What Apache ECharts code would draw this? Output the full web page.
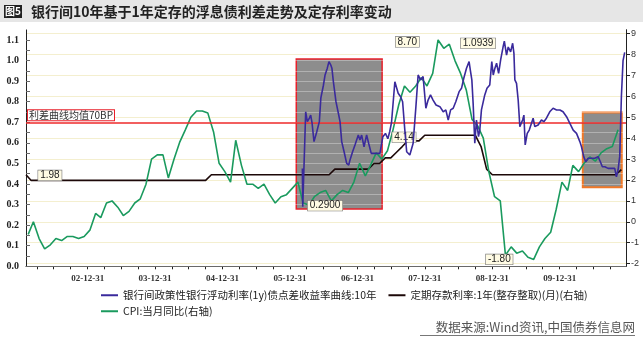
<!DOCTYPE html>
<html>
<head>
<meta charset="utf-8">
<script src="https://cdn.jsdelivr.net/npm/echarts@6/dist/echarts.min.js"></script>
<style>
  html, body { margin: 0; padding: 0; background: #fff; }
  #chart { width: 643px; height: 337px; }
</style>
</head>
<body>
<div id="chart"></div>
<script>
// 银行间政策性银行浮动利率(1y)债点差收益率曲线:10年 (left axis)
const spreadDates = [
  '2006-03-08','2006-03-10','2006-03-17','2006-03-26','2006-04-04','2006-04-15','2006-04-22','2006-04-29',
  '2006-05-10','2006-05-17','2006-05-25','2006-06-08','2006-06-16','2006-06-30','2006-07-09','2006-07-21',
  '2006-07-30','2006-08-09','2006-08-15','2006-08-23','2006-09-06','2006-09-19','2006-09-28','2006-10-07',
  '2006-10-20','2006-11-03','2006-11-14','2006-11-21','2006-12-05','2006-12-18','2007-01-05','2007-01-14',
  '2007-01-23','2007-02-05','2007-02-19','2007-03-02','2007-03-16','2007-03-31','2007-04-18','2007-05-02',
  '2007-05-11','2007-05-18','2007-06-01','2007-06-14','2007-06-24','2007-07-04','2007-07-22','2007-08-09',
  '2007-08-22','2007-09-02','2007-09-14','2007-09-24','2007-10-11','2007-10-29','2007-11-13','2007-11-25',
  '2007-12-08','2007-12-22','2008-01-06','2008-01-18','2008-01-31','2008-02-14','2008-03-01','2008-03-22',
  '2008-04-09','2008-04-23','2008-05-06','2008-05-19','2008-06-02','2008-06-16','2008-07-04','2008-07-17',
  '2008-07-29','2008-08-13','2008-08-27','2008-09-04','2008-09-11','2008-09-18','2008-09-27','2008-10-06',
  '2008-10-17','2008-10-24','2008-11-02','2008-11-20','2008-12-02','2008-12-17','2008-12-28','2009-01-05',
  '2009-01-14','2009-01-23','2009-02-03','2009-02-14','2009-02-28','2009-03-06','2009-03-18','2009-03-27',
  '2009-04-09','2009-04-20','2009-04-27','2009-05-02','2009-05-11','2009-05-20','2009-05-29','2009-06-13',
  '2009-06-20','2009-06-27','2009-07-08','2009-07-19','2009-07-31','2009-08-09','2009-08-18','2009-09-05',
  '2009-09-23','2009-10-06','2009-10-20','2009-11-07','2009-11-25','2009-12-14','2010-01-01','2010-01-18',
  '2010-02-06','2010-02-24','2010-03-14','2010-04-01','2010-04-19','2010-04-28','2010-05-10','2010-05-21',
  '2010-06-03','2010-06-21','2010-07-09','2010-07-27','2010-08-08','2010-08-19','2010-09-01','2010-09-19',
  '2010-10-07','2010-10-25','2010-11-03','2010-11-12','2010-11-21','2010-11-30','2010-12-09','2010-12-18'
];
const spreadValues = [
  0.476,0.29,0.29,0.751,0.703,0.72,0.735,0.70,
  0.606,0.598,0.654,0.703,0.817,0.88,0.93,0.963,
  0.995,0.978,0.963,0.897,0.80,0.744,0.703,0.606,
  0.557,0.50,0.492,0.517,0.557,0.59,0.638,0.614,
  0.638,0.581,0.638,0.598,0.549,0.549,0.549,0.549,
  0.54,0.63,0.646,0.62,0.654,0.70,0.897,0.841,
  0.824,0.80,0.662,0.557,0.541,0.598,0.776,0.93,
  0.906,0.922,0.768,0.808,0.833,0.808,0.784,0.776,
  0.751,0.76,0.711,0.76,0.768,0.80,0.849,0.865,
  0.913,0.963,0.995,0.946,0.906,0.792,0.598,0.711,
  0.63,0.662,0.76,0.833,0.865,0.881,0.995,0.93,
  0.963,0.987,0.938,1.003,1.07,1.0939,1.026,1.066,
  1.042,1.084,1.035,0.906,0.889,0.808,0.679,0.711,
  0.735,0.59,0.646,0.662,0.695,0.72,0.679,0.687,
  0.711,0.703,0.72,0.751,0.768,0.76,0.76,0.751,
  0.727,0.695,0.662,0.646,0.606,0.581,0.533,0.508,
  0.525,0.525,0.525,0.533,0.508,0.484,0.484,0.476,
  0.476,0.476,0.435,0.468,0.533,0.824,1.0,1.04
];

// 定期存款利率:1年(整存整取)(月) (right axis)
const depositDates = [
  '2002-01-31','2002-02-28','2004-09-30','2004-10-31','2006-07-31','2006-08-31','2007-02-28','2007-03-31',
  '2007-04-30','2007-05-31','2007-06-30','2007-07-31','2007-08-31','2007-09-30','2007-11-30','2007-12-31',
  '2008-09-30','2008-10-31','2008-11-30','2008-12-31','2010-10-31','2010-11-30'
];
const depositValues = [
  2.25,1.98,1.98,2.25,2.25,2.52,2.52,2.79,
  2.79,3.06,3.06,3.33,3.60,3.87,3.87,4.14,
  4.14,3.60,2.52,2.25,2.25,2.50
];

// CPI:当月同比, one value per month from 2002-01, plotted at its release date
const cpiFirstMonth = [2002, 1];
const cpiValues = [
  -0.6, 0.0,-0.8,-1.3,-1.1,-0.8,-0.9,-0.7,-0.7,-0.8,-0.7,-0.4,
   0.4, 0.2, 0.9, 1.0, 0.7, 0.3, 0.5, 0.9, 1.1, 1.8, 3.0, 3.2,
   3.2, 2.1, 3.0, 3.8, 4.4, 5.0, 5.3, 5.3, 5.2, 4.3, 2.8, 2.4,
   1.9, 3.9, 2.7, 1.8, 1.8, 1.6, 1.8, 1.3, 0.9, 1.2, 1.3, 1.6,
   1.9, 0.9, 0.8, 1.2, 1.4, 1.5, 1.0, 1.3, 1.5, 1.4, 1.9, 2.8,
   2.2, 2.7, 3.3, 3.0, 3.4, 4.4, 5.6, 6.5, 6.2, 6.5, 6.9, 6.5,
   7.1, 8.7, 8.3, 8.5, 7.7, 7.1, 6.3, 4.9, 4.6, 4.0, 2.4, 1.2,
   1.0,-1.6,-1.2,-1.5,-1.4,-1.7,-1.8,-1.2,-0.8,-0.5, 0.6, 1.9,
   1.5, 2.7, 2.4, 2.8, 3.1, 2.9, 3.3, 3.5, 3.6, 4.4
];

const spreadMean = 0.7;
const xRange = ['2002-01-31', '2010-12-25'];
const xTickLabels = ['2002-12-31','2003-12-31','2004-12-31','2005-12-31','2006-12-31','2007-12-31','2008-12-31','2009-12-31'];
const leftTicks = [0,0.1,0.2,0.3,0.4,0.5,0.6,0.7,0.8,0.9,1.0,1.1];
const rightTicks = [-2,-1,0,1,2,3,4,5,6,7,8,9];

// highlighted periods: [start, end, low, high] in units of the spread axis
const boxes = [
  ['2006-02-03','2007-05-14',0.278,1.008],
  ['2010-05-05','2010-12-02',0.384,0.747]
];

const legendNames = [
  '银行间政策性银行浮动利率(1y)债点差收益率曲线:10年',
  '定期存款利率:1年(整存整取)(月)(右轴)',
  'CPI:当月同比(右轴)'
];

const ts = s => { const p = s.split('-').map(Number); return Date.UTC(p[0], p[1]-1, p[2]); };
const pad = n => (n < 10 ? '0' : '') + n;

const spreadData = spreadDates.map((d, i) => [ts(d), spreadValues[i]]);
const depositData = depositDates.map((d, i) => [ts(d), depositValues[i]]);
const cpiData = cpiValues.map((v, i) => {
  // release falls around the 12th of the following month
  const m = cpiFirstMonth[1] - 1 + i + 1;
  const y = cpiFirstMonth[0] + Math.floor(m / 12);
  return [Date.UTC(y, m % 12, 12), v];
});

// quarter-end tick marks along the date axis
const quarterTicks = [];
for (let y = 2002; y <= 2010; y++) {
  [[2, 31], [5, 30], [8, 30], [11, 31]].forEach(([m, d]) => quarterTicks.push(Date.UTC(y, m, d)));
}
// half-step ticks on the spread axis
const leftTickMarks = [];
for (let k = 0; k <= 22; k++) leftTickMarks.push(k * 0.05);

const CJK = '"Noto Sans CJK SC", "Noto Sans", sans-serif';
const calloutLabel = (fmt, pos, offset) => ({
  show: true, position: pos, offset: offset, formatter: fmt,
  fontSize: 10, fontFamily: 'Liberation Sans, Arial, sans-serif', color: '#222',
  backgroundColor: '#fffbe4', borderColor: '#777', borderWidth: 0.6, padding: [0, 2]
});
const legendBase = {
  itemWidth: 17, itemHeight: 2, icon: 'rect', itemGap: 12, padding: 0,
  textStyle: { fontFamily: CJK, fontSize: 10.5, color: '#222' }
};

const chart = echarts.init(document.getElementById('chart'), null, { renderer: 'canvas' });
chart.setOption({
  animation: false,
  backgroundColor: '#ffffff',
  grid: { left: 26, right: 17, top: 29.7, bottom: 70.7, containLabel: false },
  xAxis: {
    type: 'value',
    min: ts(xRange[0]), max: ts(xRange[1]),
    axisLine: { lineStyle: { color: '#222', width: 1 } },
    axisTick: { show: true, length: 3, lineStyle: { color: '#222' }, customValues: quarterTicks },
    splitLine: { show: false },
    axisLabel: {
      customValues: xTickLabels.map(ts),
      formatter: v => { const d = new Date(v); return String(d.getUTCFullYear()).slice(2) + '-' + pad(d.getUTCMonth()+1) + '-' + pad(d.getUTCDate()); },
      fontFamily: 'Liberation Serif, serif', fontWeight: 'bold', fontSize: 9, color: '#333', margin: 8
    }
  },
  yAxis: [
    {
      type: 'value', min: 0, max: 1.15, position: 'left',
      axisLine: { show: true, lineStyle: { color: '#222' } },
      axisTick: { inside: true, length: 4, lineStyle: { color: '#222' }, customValues: leftTickMarks },
      axisLabel: { customValues: leftTicks, formatter: v => v.toFixed(1),
        fontFamily: 'Liberation Serif, serif', fontWeight: 'bold', fontSize: 10, color: '#222', margin: 7 },
      splitLine: { show: false }
    },
    {
      type: 'value', min: -2.129, max: 9.191, position: 'right',
      axisLine: { show: true, lineStyle: { color: '#222' } },
      axisTick: { inside: false, length: 4, lineStyle: { color: '#222' }, customValues: rightTicks },
      axisLabel: { customValues: rightTicks, fontFamily: 'Liberation Sans, sans-serif', fontSize: 9, color: '#333', margin: 5,
        formatter: v => String(Math.round(v)) },
      splitLine: { show: true, lineStyle: { color: '#f4efcf', width: 1 } }
    },
    {
      // light rules that show only on the shaded periods
      type: 'value', min: 0, max: 1.15, interval: 0.05, position: 'left', z: 2,
      axisLine: { show: false }, axisTick: { show: false }, axisLabel: { show: false },
      splitLine: { show: true, lineStyle: { color: 'rgba(255,255,255,0.32)', width: 1 } }
    }
  ],
  legend: [
    Object.assign({ left: 101, top: 290, data: legendNames.slice(0, 2) }, legendBase),
    Object.assign({ left: 101, top: 306, data: legendNames.slice(2) }, legendBase)
  ],
  graphic: [
    { type: 'rect', shape: { x: 0, y: 0, width: 643, height: 22 }, style: { fill: '#e6e6e6' }, silent: true },
    { type: 'rect', shape: { x: 4, y: 5, width: 18, height: 13 }, style: { fill: '#222' } },
    { type: 'text', x: 13, y: 11.5, style: { text: '图5', fill: '#fff', font: 'bold 10px ' + CJK, align: 'center', verticalAlign: 'middle' } },
    { type: 'text', x: 31, y: 11.5, style: { text: '银行间10年基于1年定存的浮息债利差走势及定存利率变动', fill: '#222', font: 'bold 14px ' + CJK, verticalAlign: 'middle' } },
    { type: 'text', x: 635, y: 327, style: { text: '数据来源:Wind资讯,中国债券信息网', fill: '#555', font: '12.5px ' + CJK, align: 'right', verticalAlign: 'middle' } },
    { type: 'line', shape: { x1: 420, y1: 335.5, x2: 635, y2: 335.5 }, style: { stroke: '#777', lineWidth: 1 } }
  ],
  series: [
    {
      name: 'boxes', type: 'line', data: [], z: 1, silent: true,
      markArea: {
        silent: true, z: 1,
        data: [
          [{ coord: [ts(boxes[0][0]), boxes[0][2]], itemStyle: { color: '#8d8d8d', borderColor: '#e8202a', borderWidth: 1.5 } },
           { coord: [ts(boxes[0][1]), boxes[0][3]] }],
          [{ coord: [ts(boxes[1][0]), boxes[1][2]], itemStyle: { color: '#8d8d8d', borderColor: '#f07828', borderWidth: 2 } },
           { coord: [ts(boxes[1][1]), boxes[1][3]] }]
        ]
      }
    },
    {
      name: legendNames[0], type: 'line', yAxisIndex: 0, data: spreadData, z: 5,
      showSymbol: false, symbol: 'none', color: '#3a2a9c', lineStyle: { width: 1.6, color: '#3a2a9c' },
      markLine: {
        silent: true, symbol: 'none',
        lineStyle: { color: '#ee2a2a', width: 1.5, type: 'solid' },
        label: { show: true, position: 'insideStartTop', distance: [2, 2], formatter: '利差曲线均值70BP',
          fontFamily: CJK, fontSize: 10, color: '#333', backgroundColor: '#fff', borderColor: '#e8202a', borderWidth: 1, padding: [0, 1] },
        data: [{ yAxis: spreadMean }]
      },
      markPoint: {
        symbol: 'circle', symbolSize: 0,
        data: [
          { type: 'max', label: calloutLabel(p => p.value.toFixed(4), 'left', [-4, 2]) },
          { type: 'min', label: calloutLabel(p => p.value.toFixed(4), 'right', [0, -1]) }
        ]
      }
    },
    {
      name: legendNames[1], type: 'line', yAxisIndex: 1, data: depositData, z: 4,
      showSymbol: false, symbol: 'none', color: '#1c0808', lineStyle: { width: 1.6, color: '#1c0808' },
      markPoint: {
        symbol: 'circle', symbolSize: 0,
        data: [
          { coord: depositData[1], value: depositValues[1], label: calloutLabel(p => p.value.toFixed(2), 'right', [2, -5]) },
          { coord: depositData[15], value: depositValues[15], label: calloutLabel(p => p.value.toFixed(2), 'left', [-4, 2]) }
        ]
      }
    },
    {
      name: legendNames[2], type: 'line', yAxisIndex: 1, data: cpiData, z: 4,
      showSymbol: false, symbol: 'none', color: '#1a9a5e', lineStyle: { width: 1.6, color: '#1a9a5e' },
      markPoint: {
        symbol: 'circle', symbolSize: 0,
        data: [
          { type: 'max', label: calloutLabel(p => p.value.toFixed(2), 'left', [-14, 2]) },
          { type: 'min', label: calloutLabel(p => p.value.toFixed(2), 'left', [-16, 0]) }
        ]
      }
    }
  ]
});
</script>
</body>
</html>
